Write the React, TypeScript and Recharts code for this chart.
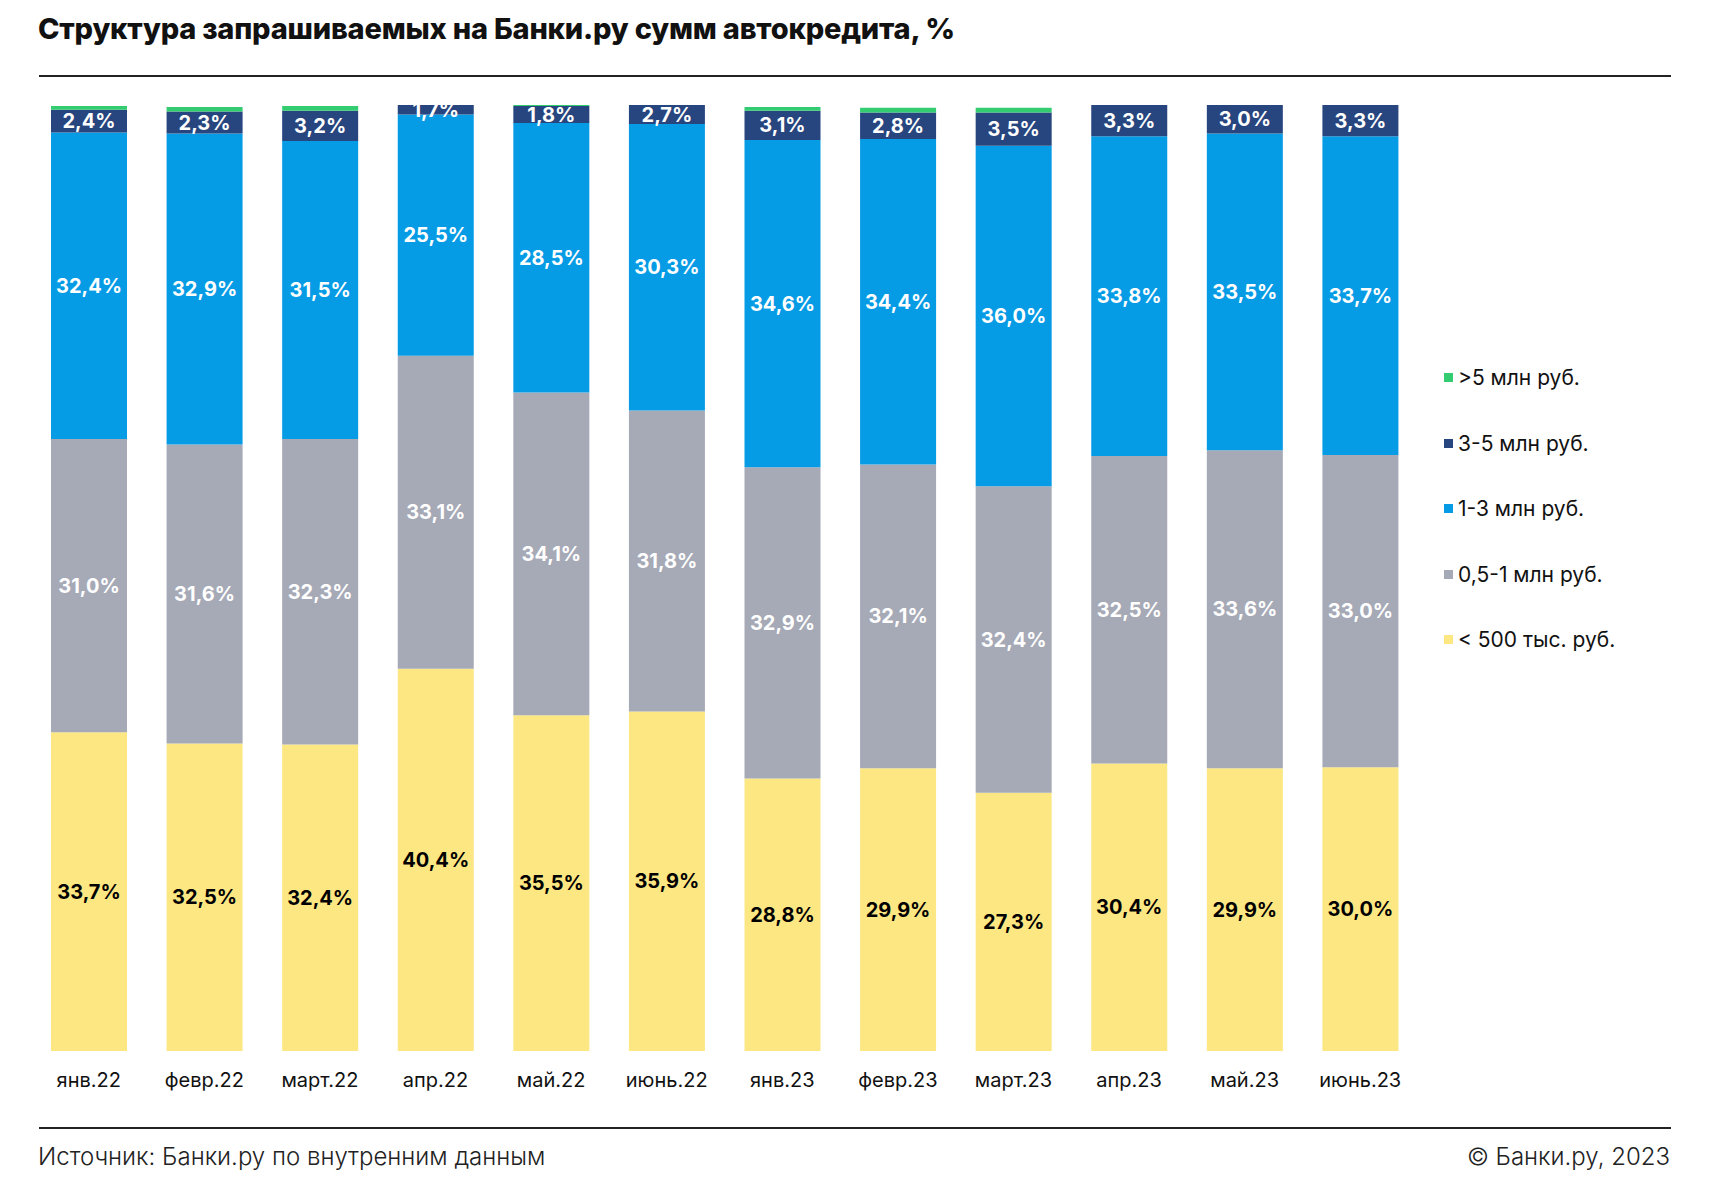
import { Bar, BarChart, LabelList, XAxis, YAxis } from 'recharts';

const months = ['янв.22', 'февр.22', 'март.22', 'апр.22', 'май.22', 'июнь.22', 'янв.23', 'февр.23', 'март.23', 'апр.23', 'май.23', 'июнь.23'];

const under500 = [33.7, 32.5, 32.4, 40.4, 35.5, 35.9, 28.8, 29.9, 27.3, 30.4, 29.9, 30.0];
const from05to1 = [31.0, 31.6, 32.3, 33.1, 34.1, 31.8, 32.9, 32.1, 32.4, 32.5, 33.6, 33.0];
const from1to3 = [32.4, 32.9, 31.5, 25.5, 28.5, 30.3, 34.6, 34.4, 36.0, 33.8, 33.5, 33.7];
const from3to5 = [2.4, 2.3, 3.2, 1.7, 1.8, 2.7, 3.1, 2.8, 3.5, 3.3, 3.0, 3.3];
const over5 = [0.4, 0.5, 0.5, 0, 0.1, 0, 0.4, 0.5, 0.5, 0.1, 0, 0.1];

const series = [
  { key: 'over5', name: '>5 млн руб.', color: '#33cc70', label: null },
  { key: 'from3to5', name: '3-5 млн руб.', color: '#27457e', label: '#ffffff' },
  { key: 'from1to3', name: '1-3 млн руб.', color: '#069be5', label: '#ffffff' },
  { key: 'from05to1', name: '0,5-1 млн руб.', color: '#a6a9b6', label: '#ffffff' },
  { key: 'under500', name: '< 500 тыс. руб.', color: '#fce783', label: '#000000' },
];

const data = months.map((m, i) => ({
  month: m,
  under500: under500[i],
  from05to1: from05to1[i],
  from1to3: from1to3[i],
  from3to5: from3to5[i],
  over5: over5[i],
}));

const font = 'Inter, "Noto Sans", sans-serif';
const fmt = (v: number) => `${v.toFixed(1).replace('.', ',')}%`;

export default function App() {
  // stack order bottom -> top; values over 100 get clipped like in the original
  const stack = [...series].reverse();
  return (
    <div style={{ position: 'absolute', left: 0, top: 0, width: 1712, height: 1200, background: '#fff', fontFamily: font }}>
      <div style={{ position: 'absolute', left: 38, top: 11, fontSize: 29, fontWeight: 800, color: '#111', letterSpacing: -0.2 }}>
        Структура запрашиваемых на Банки.ру сумм автокредита, %
      </div>
      <div style={{ position: 'absolute', left: 39, top: 75, width: 1632, height: 1.5, background: '#222' }} />

      <div style={{ position: 'absolute', left: 0, top: 0 }}>
        <BarChart width={1712} height={1200} data={data} margin={{ top: 105, right: 294, bottom: 109, left: 31 }} barSize={76}>
          <XAxis
            dataKey="month"
            axisLine={false}
            tickLine={false}
            tickMargin={16}
            height={40}
            tick={{ fill: '#111', fontSize: 20, fontFamily: font }}
          />
          <YAxis hide domain={[0, 100]} allowDataOverflow />
          {stack.map((s) => (
            <Bar key={s.key} dataKey={s.key} name={s.name} stackId="a" fill={s.color} isAnimationActive={false}>
              {s.label && (
                <LabelList
                  dataKey={s.key}
                  position="center"
                  formatter={(v: number) => fmt(v)}
                  style={{ fill: s.label, fontSize: 20, fontWeight: 700, fontFamily: font }}
                />
              )}
            </Bar>
          ))}
        </BarChart>
      </div>

      {series.map((s, i) => (
        <div key={s.key} style={{ position: 'absolute', left: 1444, top: 365 + i * 65.5, display: 'flex', alignItems: 'center', fontSize: 21, color: '#111' }}>
          <span style={{ display: 'inline-block', width: 9, height: 9, background: s.color, marginRight: 5 }} />
          {s.name}
        </div>
      ))}

      <div style={{ position: 'absolute', left: 39, top: 1127, width: 1632, height: 1.5, background: '#222' }} />
      <div style={{ position: 'absolute', left: 38, top: 1142, fontSize: 24, fontWeight: 300, color: '#222' }}>
        Источник: Банки.ру по внутренним данным
      </div>
      <div style={{ position: 'absolute', right: 42, top: 1142, fontSize: 24, fontWeight: 300, color: '#222' }}>
        © Банки.ру, 2023
      </div>
    </div>
  );
}
